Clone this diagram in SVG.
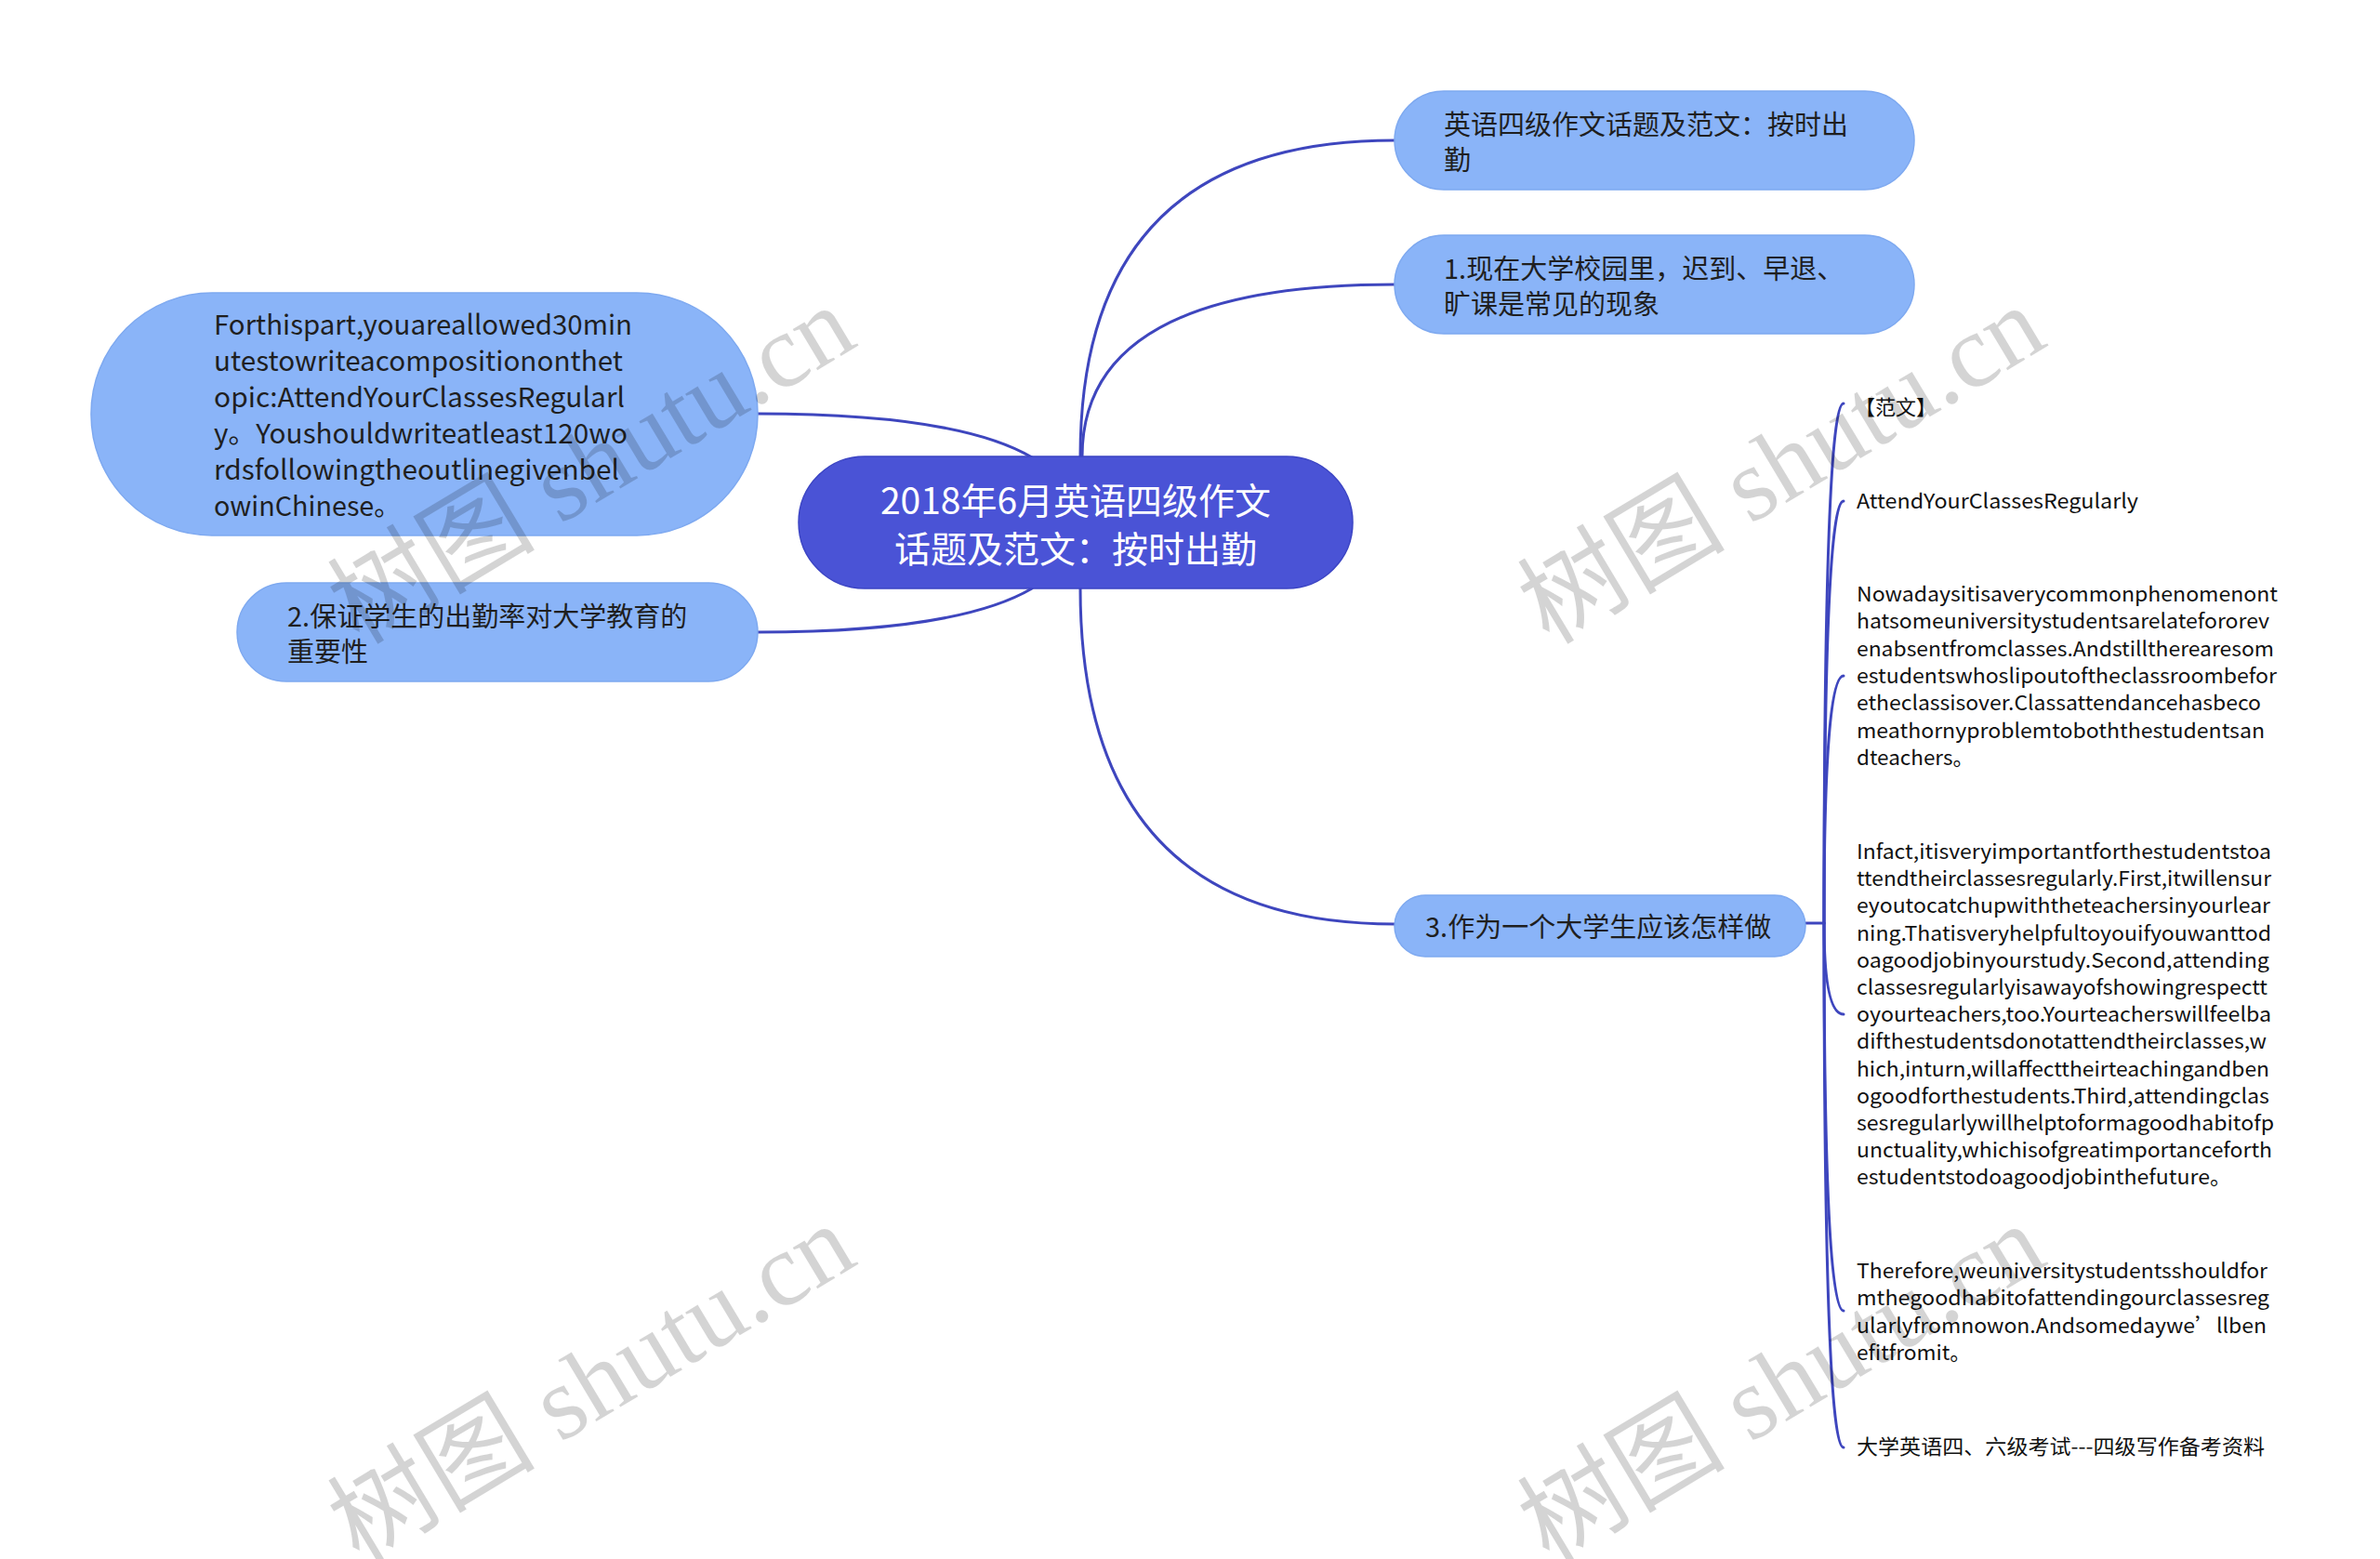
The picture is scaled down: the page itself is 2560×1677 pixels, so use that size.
<svg xmlns="http://www.w3.org/2000/svg" width="2560" height="1677" viewBox="0 0 2560 1677">
<defs>
<style>
.bg{fill:#ffffff}
.edge{fill:none;stroke:#3E46BE;stroke-width:3;stroke-linecap:round}
.root{fill:#4A53D6;stroke:#3B44C4;stroke-width:1.5}
.sub{fill:#8AB4F8;stroke:#7EA9F0;stroke-width:1.5}
.rt{font-family:"Noto Sans CJK SC","Microsoft YaHei",sans-serif;font-size:39px;fill:#ffffff;text-anchor:middle;dominant-baseline:central}
.st{font-family:"Noto Sans CJK SC","Microsoft YaHei",sans-serif;font-size:29px;fill:#1f1f1f;dominant-baseline:central}
.lt{font-family:"Noto Sans CJK SC","Microsoft YaHei",sans-serif;font-size:22px;fill:#111111;dominant-baseline:central}
.wm{font-family:"Liberation Serif","Noto Sans CJK SC",serif;font-size:112px;fill:#000000;fill-opacity:0.17;text-anchor:middle;dominant-baseline:central}
</style>
</defs>
<rect class="bg" x="0" y="0" width="2560" height="1677"/>

<g id="connectors">
<path class="edge" d="M1162,491 Q1162,151 1500,151"/>
<path class="edge" d="M1164,491 Q1164,306 1500,306"/>
<path class="edge" d="M1162,633 Q1162,994 1500,994"/>
<path class="edge" d="M815,445 Q1030,445 1110,492"/>
<path class="edge" d="M815,680 Q1030,680 1110,633"/>
<path class="edge" d="M1942,993 H1962"/>
<path class="edge" d="M1962,993 Q1962,434 1983,434"/>
<path class="edge" d="M1962,993 Q1962,539 1983,539"/>
<path class="edge" d="M1962,993 Q1962,727 1983,727"/>
<path class="edge" d="M1962,993 Q1962,1091 1983,1091"/>
<path class="edge" d="M1962,993 Q1962,1410 1983,1410"/>
<path class="edge" d="M1962,993 Q1962,1557 1983,1557"/>
</g>

<g id="root">
<rect class="root" x="859" y="491" width="596" height="142" rx="71"/>
<text class="rt" x="1157" y="536">2018年6月英语四级作文</text>
<text class="rt" x="1157" y="588">话题及范文：按时出勤</text>
</g>

<g id="node-title">
<rect class="sub" x="1500" y="98" width="559" height="106" rx="53"/>
<text class="st" x="1553" y="132">英语四级作文话题及范文：按时出</text>
<text class="st" x="1553" y="170">勤</text>
</g>

<g id="node-1">
<rect class="sub" x="1500" y="253" width="559" height="106" rx="53"/>
<text class="st" x="1553" y="287">1.现在大学校园里，迟到、早退、</text>
<text class="st" x="1553" y="325">旷课是常见的现象</text>
</g>

<g id="node-prompt">
<rect class="sub" x="98" y="315" width="717" height="261" rx="130"/>
<text class="st" x="230" y="347" textLength="450" lengthAdjust="spacingAndGlyphs">Forthispart,youareallowed30min</text>
<text class="st" x="230" y="386" textLength="440" lengthAdjust="spacingAndGlyphs">utestowriteacompositiononthet</text>
<text class="st" x="230" y="425" textLength="442" lengthAdjust="spacingAndGlyphs">opic:AttendYourClassesRegularl</text>
<text class="st" x="230" y="464" textLength="445" lengthAdjust="spacingAndGlyphs">y。Youshouldwriteatleast120wo</text>
<text class="st" x="230" y="503" textLength="436" lengthAdjust="spacingAndGlyphs">rdsfollowingtheoutlinegivenbel</text>
<text class="st" x="230" y="542" textLength="201" lengthAdjust="spacingAndGlyphs">owinChinese。</text>
</g>

<g id="node-2">
<rect class="sub" x="255" y="627" width="560" height="106" rx="53"/>
<text class="st" x="309" y="661">2.保证学生的出勤率对大学教育的</text>
<text class="st" x="309" y="699">重要性</text>
</g>

<g id="node-3">
<rect class="sub" x="1500" y="963" width="442" height="66" rx="33"/>
<text class="st" x="1533" y="995">3.作为一个大学生应该怎样做</text>
</g>

<g id="leaf-fanwen">
<text class="lt" x="1995" y="436">【范文】</text>
</g>

<g id="leaf-title">
<text class="lt" x="1997" y="537" textLength="303" lengthAdjust="spacingAndGlyphs">AttendYourClassesRegularly</text>
</g>

<g id="leaf-para1">
<text class="lt" x="1997" y="637" textLength="453" lengthAdjust="spacingAndGlyphs">Nowadaysitisaverycommonphenomenont</text>
<text class="lt" x="1997" y="666" textLength="444" lengthAdjust="spacingAndGlyphs">hatsomeuniversitystudentsarelatefororev</text>
<text class="lt" x="1997" y="696" textLength="449" lengthAdjust="spacingAndGlyphs">enabsentfromclasses.Andstilltherearesom</text>
<text class="lt" x="1997" y="725" textLength="452" lengthAdjust="spacingAndGlyphs">estudentswhoslipoutoftheclassroombefor</text>
<text class="lt" x="1997" y="754" textLength="435" lengthAdjust="spacingAndGlyphs">etheclassisover.Classattendancehasbeco</text>
<text class="lt" x="1997" y="784" textLength="439" lengthAdjust="spacingAndGlyphs">meathornyproblemtoboththestudentsan</text>
<text class="lt" x="1997" y="813" textLength="126" lengthAdjust="spacingAndGlyphs">dteachers。</text>
</g>

<g id="leaf-para2">
<text class="lt" x="1997" y="914" textLength="446" lengthAdjust="spacingAndGlyphs">Infact,itisveryimportantforthestudentstoa</text>
<text class="lt" x="1997" y="943" textLength="446" lengthAdjust="spacingAndGlyphs">ttendtheirclassesregularly.First,itwillensur</text>
<text class="lt" x="1997" y="972" textLength="445" lengthAdjust="spacingAndGlyphs">eyoutocatchupwiththeteachersinyourlear</text>
<text class="lt" x="1997" y="1002" textLength="446" lengthAdjust="spacingAndGlyphs">ning.Thatisveryhelpfultoyouifyouwanttod</text>
<text class="lt" x="1997" y="1031" textLength="444" lengthAdjust="spacingAndGlyphs">oagoodjobinyourstudy.Second,attending</text>
<text class="lt" x="1997" y="1060" textLength="442" lengthAdjust="spacingAndGlyphs">classesregularlyisawayofshowingrespectt</text>
<text class="lt" x="1997" y="1089" textLength="446" lengthAdjust="spacingAndGlyphs">oyourteachers,too.Yourteacherswillfeelba</text>
<text class="lt" x="1997" y="1118" textLength="441" lengthAdjust="spacingAndGlyphs">difthestudentsdonotattendtheirclasses,w</text>
<text class="lt" x="1997" y="1148" textLength="444" lengthAdjust="spacingAndGlyphs">hich,inturn,willaffecttheirteachingandben</text>
<text class="lt" x="1997" y="1177" textLength="444" lengthAdjust="spacingAndGlyphs">ogoodforthestudents.Third,attendingclas</text>
<text class="lt" x="1997" y="1206" textLength="449" lengthAdjust="spacingAndGlyphs">sesregularlywillhelptoformagoodhabitofp</text>
<text class="lt" x="1997" y="1235" textLength="447" lengthAdjust="spacingAndGlyphs">unctuality,whichisofgreatimportanceforth</text>
<text class="lt" x="1997" y="1264" textLength="403" lengthAdjust="spacingAndGlyphs">estudentstodoagoodjobinthefuture。</text>
</g>

<g id="leaf-para3">
<text class="lt" x="1997" y="1365" textLength="442" lengthAdjust="spacingAndGlyphs">Therefore,weuniversitystudentsshouldfor</text>
<text class="lt" x="1997" y="1394" textLength="444" lengthAdjust="spacingAndGlyphs">mthegoodhabitofattendingourclassesreg</text>
<text class="lt" x="1997" y="1424" textLength="441" lengthAdjust="spacingAndGlyphs">ularlyfromnowon.Andsomedaywe’llben</text>
<text class="lt" x="1997" y="1453" textLength="123" lengthAdjust="spacingAndGlyphs">efitfromit。</text>
</g>

<g id="leaf-source">
<text class="lt" x="1997" y="1554" textLength="439" lengthAdjust="spacingAndGlyphs">大学英语四、六级考试---四级写作备考资料</text>
</g>

<g id="watermarks">
<text class="wm" transform="translate(636,500) rotate(-31)">树图 shutu.cn</text>
<text class="wm" transform="translate(1916,500) rotate(-31)">树图 shutu.cn</text>
<text class="wm" transform="translate(636,1488) rotate(-31)">树图 shutu.cn</text>
<text class="wm" transform="translate(1916,1488) rotate(-31)">树图 shutu.cn</text>
</g>
</svg>
